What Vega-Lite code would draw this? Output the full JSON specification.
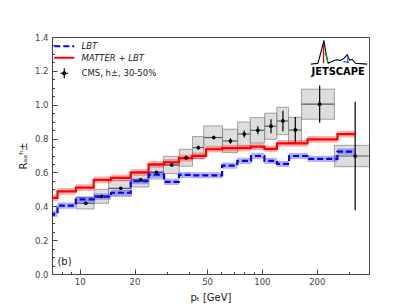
{
  "$schema": "https://vega.github.io/schema/vega-lite/v6.json",
  "width": 317,
  "height": 237,
  "autosize": "none",
  "padding": {"left": 52, "top": 37, "right": 42, "bottom": 34},
  "background": "white",
  "config": {
    "font": "DejaVu Sans",
    "view": {"stroke": "#444", "strokeWidth": 1},
    "axis": {"grid": false, "domainColor": "#444", "tickColor": "#444", "labelColor": "#444", "labelFontSize": 8.5, "titleFontSize": 10, "titleColor": "#222", "titleFontWeight": "normal", "labelFont": "DejaVu Sans", "titleFont": "DejaVu Sans", "labelOverlap": false}
  },
  "datasets": {
    "model": [
      {"pt": 6.8, "series": "MATTER + LBT", "y": 0.45, "lo": 0.43, "hi": 0.47},
      {"pt": 8.4, "series": "MATTER + LBT", "y": 0.488, "lo": 0.468, "hi": 0.508},
      {"pt": 10.8, "series": "MATTER + LBT", "y": 0.51, "lo": 0.49, "hi": 0.53},
      {"pt": 13.2, "series": "MATTER + LBT", "y": 0.556, "lo": 0.536, "hi": 0.576},
      {"pt": 16.8, "series": "MATTER + LBT", "y": 0.568, "lo": 0.548, "hi": 0.588},
      {"pt": 21.6, "series": "MATTER + LBT", "y": 0.6, "lo": 0.58, "hi": 0.62},
      {"pt": 26.4, "series": "MATTER + LBT", "y": 0.648, "lo": 0.628, "hi": 0.668},
      {"pt": 32, "series": "MATTER + LBT", "y": 0.66, "lo": 0.64, "hi": 0.68},
      {"pt": 38.4, "series": "MATTER + LBT", "y": 0.685, "lo": 0.665, "hi": 0.705},
      {"pt": 44.8, "series": "MATTER + LBT", "y": 0.698, "lo": 0.678, "hi": 0.718},
      {"pt": 54.4, "series": "MATTER + LBT", "y": 0.737, "lo": 0.717, "hi": 0.757},
      {"pt": 67.2, "series": "MATTER + LBT", "y": 0.743, "lo": 0.723, "hi": 0.763},
      {"pt": 80, "series": "MATTER + LBT", "y": 0.743, "lo": 0.723, "hi": 0.763},
      {"pt": 95, "series": "MATTER + LBT", "y": 0.752, "lo": 0.732, "hi": 0.772},
      {"pt": 112.2, "series": "MATTER + LBT", "y": 0.739, "lo": 0.719, "hi": 0.759},
      {"pt": 130.4, "series": "MATTER + LBT", "y": 0.772, "lo": 0.752, "hi": 0.792},
      {"pt": 152.5, "series": "MATTER + LBT", "y": 0.772, "lo": 0.752, "hi": 0.792},
      {"pt": 207.5, "series": "MATTER + LBT", "y": 0.795, "lo": 0.775, "hi": 0.815},
      {"pt": 325, "series": "MATTER + LBT", "y": 0.826, "lo": 0.806, "hi": 0.846},
      {"pt": 6.8, "series": "LBT", "y": 0.355, "lo": 0.337, "hi": 0.373},
      {"pt": 8.4, "series": "LBT", "y": 0.404, "lo": 0.386, "hi": 0.422},
      {"pt": 10.8, "series": "LBT", "y": 0.441, "lo": 0.423, "hi": 0.459},
      {"pt": 13.2, "series": "LBT", "y": 0.457, "lo": 0.439, "hi": 0.475},
      {"pt": 16.8, "series": "LBT", "y": 0.48, "lo": 0.462, "hi": 0.498},
      {"pt": 21.6, "series": "LBT", "y": 0.548, "lo": 0.53, "hi": 0.566},
      {"pt": 26.4, "series": "LBT", "y": 0.587, "lo": 0.569, "hi": 0.605},
      {"pt": 32, "series": "LBT", "y": 0.544, "lo": 0.526, "hi": 0.562},
      {"pt": 38.4, "series": "LBT", "y": 0.585, "lo": 0.567, "hi": 0.603},
      {"pt": 44.8, "series": "LBT", "y": 0.583, "lo": 0.565, "hi": 0.601},
      {"pt": 54.4, "series": "LBT", "y": 0.583, "lo": 0.565, "hi": 0.601},
      {"pt": 67.2, "series": "LBT", "y": 0.64, "lo": 0.622, "hi": 0.658},
      {"pt": 80, "series": "LBT", "y": 0.668, "lo": 0.65, "hi": 0.686},
      {"pt": 95, "series": "LBT", "y": 0.697, "lo": 0.679, "hi": 0.715},
      {"pt": 112.2, "series": "LBT", "y": 0.668, "lo": 0.65, "hi": 0.686},
      {"pt": 130.4, "series": "LBT", "y": 0.65, "lo": 0.632, "hi": 0.668},
      {"pt": 152.5, "series": "LBT", "y": 0.697, "lo": 0.679, "hi": 0.715},
      {"pt": 207.5, "series": "LBT", "y": 0.68, "lo": 0.662, "hi": 0.698},
      {"pt": 325, "series": "LBT", "y": 0.723, "lo": 0.705, "hi": 0.741}
    ],
    "cms": [
      {"series": "CMS, h±, 30-50%", "pt": 10.8, "pt_lo": 9.6, "pt_hi": 12, "y": 0.418, "stat_lo": 0.413, "stat_hi": 0.423, "sys_lo": 0.384, "sys_hi": 0.452},
      {"series": "CMS, h±, 30-50%", "pt": 13.2, "pt_lo": 12, "pt_hi": 14.4, "y": 0.459, "stat_lo": 0.454, "stat_hi": 0.464, "sys_lo": 0.418, "sys_hi": 0.5},
      {"series": "CMS, h±, 30-50%", "pt": 16.8, "pt_lo": 14.4, "pt_hi": 19.2, "y": 0.506, "stat_lo": 0.501, "stat_hi": 0.511, "sys_lo": 0.459, "sys_hi": 0.553},
      {"series": "CMS, h±, 30-50%", "pt": 21.6, "pt_lo": 19.2, "pt_hi": 24, "y": 0.556, "stat_lo": 0.55, "stat_hi": 0.562, "sys_lo": 0.514, "sys_hi": 0.598},
      {"series": "CMS, h±, 30-50%", "pt": 26.4, "pt_lo": 24, "pt_hi": 28.8, "y": 0.601, "stat_lo": 0.594, "stat_hi": 0.608, "sys_lo": 0.561, "sys_hi": 0.641},
      {"series": "CMS, h±, 30-50%", "pt": 32, "pt_lo": 28.8, "pt_hi": 35.2, "y": 0.644, "stat_lo": 0.636, "stat_hi": 0.652, "sys_lo": 0.593, "sys_hi": 0.695},
      {"series": "CMS, h±, 30-50%", "pt": 38.4, "pt_lo": 35.2, "pt_hi": 41.6, "y": 0.687, "stat_lo": 0.677, "stat_hi": 0.697, "sys_lo": 0.637, "sys_hi": 0.737},
      {"series": "CMS, h±, 30-50%", "pt": 44.8, "pt_lo": 41.6, "pt_hi": 48, "y": 0.747, "stat_lo": 0.735, "stat_hi": 0.759, "sys_lo": 0.682, "sys_hi": 0.812},
      {"series": "CMS, h±, 30-50%", "pt": 54.4, "pt_lo": 48, "pt_hi": 60.8, "y": 0.806, "stat_lo": 0.796, "stat_hi": 0.816, "sys_lo": 0.737, "sys_hi": 0.875},
      {"series": "CMS, h±, 30-50%", "pt": 67.2, "pt_lo": 60.8, "pt_hi": 73.6, "y": 0.786, "stat_lo": 0.77, "stat_hi": 0.802, "sys_lo": 0.717, "sys_hi": 0.855},
      {"series": "CMS, h±, 30-50%", "pt": 80, "pt_lo": 73.6, "pt_hi": 86.4, "y": 0.827, "stat_lo": 0.807, "stat_hi": 0.847, "sys_lo": 0.756, "sys_hi": 0.898},
      {"series": "CMS, h±, 30-50%", "pt": 95, "pt_lo": 86.4, "pt_hi": 103.6, "y": 0.849, "stat_lo": 0.825, "stat_hi": 0.873, "sys_lo": 0.774, "sys_hi": 0.924},
      {"series": "CMS, h±, 30-50%", "pt": 112.2, "pt_lo": 103.6, "pt_hi": 120.8, "y": 0.873, "stat_lo": 0.832, "stat_hi": 0.914, "sys_lo": 0.796, "sys_hi": 0.95},
      {"series": "CMS, h±, 30-50%", "pt": 130.4, "pt_lo": 120.8, "pt_hi": 140, "y": 0.904, "stat_lo": 0.843, "stat_hi": 0.965, "sys_lo": 0.823, "sys_hi": 0.985},
      {"series": "CMS, h±, 30-50%", "pt": 152.5, "pt_lo": 140, "pt_hi": 165, "y": 0.851, "stat_lo": 0.774, "stat_hi": 0.928, "sys_lo": 0.776, "sys_hi": 0.926},
      {"series": "CMS, h±, 30-50%", "pt": 207.5, "pt_lo": 165, "pt_hi": 250, "y": 1.003, "stat_lo": 0.893, "stat_hi": 1.113, "sys_lo": 0.914, "sys_hi": 1.092},
      {"series": "CMS, h±, 30-50%", "pt": 325, "pt_lo": 250, "pt_hi": 400, "y": 0.697, "stat_lo": 0.377, "stat_hi": 1.017, "sys_lo": 0.634, "sys_hi": 0.76}
    ],
    "logo": [
      {"x": 186, "y": 1.24},
      {"x": 203, "y": 1.245},
      {"x": 212, "y": 1.32},
      {"x": 219, "y": 1.38},
      {"x": 225, "y": 1.3},
      {"x": 231, "y": 1.245},
      {"x": 242, "y": 1.255},
      {"x": 256, "y": 1.265},
      {"x": 270, "y": 1.262},
      {"x": 283, "y": 1.275},
      {"x": 294, "y": 1.295},
      {"x": 304, "y": 1.262},
      {"x": 313, "y": 1.268},
      {"x": 326, "y": 1.245},
      {"x": 378, "y": 1.24}
    ],
    "logoColor": [
      {"g": "r", "x": 218, "y": 1.36},
      {"g": "r", "x": 218, "y": 1.245},
      {"g": "gr", "x": 223, "y": 1.31},
      {"g": "gr", "x": 230, "y": 1.25},
      {"g": "b", "x": 280, "y": 1.255},
      {"g": "b", "x": 300, "y": 1.25},
      {"g": "b2", "x": 296, "y": 1.285},
      {"g": "b2", "x": 296, "y": 1.245}
    ],
    "notes": [
      {"x": 7.55, "y": 0.071, "text": "(b)"}
    ],
    "brand": [
      {"x": 262, "y": 1.196, "text": "JETSCAPE"}
    ]
  },
  "layer": [
    {
      "data": {"name": "cms"},
      "mark": {"type": "rule", "color": "#111", "strokeWidth": 1.2, "clip": true},
      "encoding": {
        "x": {"field": "pt_lo", "type": "quantitative", "scale": {"type": "log", "domain": [7.05, 387], "nice": false},
          "title": "pₜ [GeV]",
          "axis": {
            "values": [8, 9, 10, 20, 30, 40, 50, 60, 70, 80, 90, 100, 200, 300],
            "tickCount": 100,
            "labelExpr": "indexof([10,20,50,100,200], datum.value) >= 0 ? format(datum.value, 'd') : ''",
            "tickSize": {"condition": {"test": "indexof([10,20,50,100,200], datum.value) >= 0", "value": -5}, "value": -2.5},
            "labelPadding": 8,
            "titlePadding": 4,
            "labelFlush": false,
            "labelOverlap": false
          }},
        "x2": {"field": "pt_hi"},
        "y": {"field": "y", "type": "quantitative", "scale": {"domain": [0, 1.4], "nice": false},
          "title": "Rₐₐʰ±",
          "axis": {
            "values": [0, 0.05, 0.1, 0.15, 0.2, 0.25, 0.3, 0.35, 0.4, 0.45, 0.5, 0.55, 0.6, 0.65, 0.7, 0.75, 0.8, 0.85, 0.9, 0.95, 1.0, 1.05, 1.1, 1.15, 1.2, 1.25, 1.3, 1.35, 1.4],
            "tickCount": 100,
            "labelExpr": "indexof(['0.00','0.20','0.40','0.60','0.80','1.00','1.20','1.40'], format(datum.value, '.2f')) >= 0 ? format(datum.value, '.1f') : ''",
            "tickSize": {"condition": {"test": "indexof(['0.00','0.20','0.40','0.60','0.80','1.00','1.20','1.40'], format(datum.value, '.2f')) >= 0", "value": -5}, "value": -2.5},
            "labelPadding": 9,
            "titlePadding": 6,
            "labelFlush": false,
            "labelOverlap": false
          }}
      }
    },
    {
      "data": {"name": "cms"},
      "mark": {"type": "rect", "fill": "#b4b4b4", "fillOpacity": 0.45, "stroke": "#808080", "strokeOpacity": 0.7, "strokeWidth": 1, "clip": true},
      "encoding": {
        "x": {"field": "pt_lo", "type": "quantitative", "title": "pₜ [GeV]"},
        "x2": {"field": "pt_hi"},
        "y": {"field": "sys_lo", "type": "quantitative", "title": "Rₐₐʰ±"},
        "y2": {"field": "sys_hi"}
      }
    },
    {
      "data": {"name": "cms"},
      "mark": {"type": "rule", "color": "#000", "strokeWidth": 1.2, "clip": true},
      "encoding": {
        "x": {"field": "pt", "type": "quantitative", "title": "pₜ [GeV]"},
        "y": {"field": "stat_lo", "type": "quantitative", "title": "Rₐₐʰ±"},
        "y2": {"field": "stat_hi"}
      }
    },
    {
      "data": {"name": "model"},
      "mark": {"type": "area", "interpolate": "step", "opacity": 0.3, "clip": true},
      "encoding": {
        "x": {"field": "pt", "type": "quantitative", "title": "pₜ [GeV]"},
        "y": {"field": "lo", "type": "quantitative", "title": "Rₐₐʰ±"},
        "y2": {"field": "hi"},
        "color": {"field": "series", "type": "nominal"},
        "detail": {"field": "series"}
      }
    },
    {
      "data": {"name": "model"},
      "mark": {"type": "line", "interpolate": "step", "strokeWidth": 2.2, "clip": true},
      "encoding": {
        "x": {"field": "pt", "type": "quantitative", "title": "pₜ [GeV]"},
        "y": {"field": "y", "type": "quantitative", "title": "Rₐₐʰ±"},
        "color": {"field": "series", "type": "nominal",
          "scale": {"domain": ["LBT", "MATTER + LBT", "CMS, h±, 30-50%"], "range": ["#0000ff", "#ff0000", "#000000"]},
          "legend": {
            "title": null,
            "orient": "none",
            "legendX": 8,
            "legendY": 5,
            "padding": 0,
            "symbolSize": 100,
            "symbolOffset": 0,
            "labelOffset": 13,
            "rowPadding": 2.5,
            "labelFontSize": 8.5,
            "labelFont": "DejaVu Sans",
            "labelColor": "#222",
            "encode": {
              "symbols": {"update": {
                "shape": {"signal": "datum.value === 'CMS, h±, 30-50%' ? 'M-0.8,0H0.8M0,-1V1M-0.3,0A0.3,0.3 0 1,0 0.3,0A0.3,0.3 0 1,0 -0.3,0' : 'M-2,0H2'"},
                "strokeDash": {"signal": "datum.value === 'LBT' ? [6,3] : [1,0]"},
                "strokeWidth": {"signal": "datum.value === 'CMS, h±, 30-50%' ? 1.2 : 2"},
                "fill": {"signal": "datum.value === 'CMS, h±, 30-50%' ? '#000000' : 'transparent'"},
                "stroke": {"scale": "color", "field": "value"},
                "opacity": {"value": 1},
                "strokeOpacity": {"value": 1}
              }},
              "labels": {"update": {
                "fontStyle": {"signal": "datum.value === 'CMS, h±, 30-50%' ? 'normal' : 'italic'"}
              }}
            }
          }},
        "strokeDash": {"field": "series", "type": "nominal", "scale": {"domain": ["LBT", "MATTER + LBT"], "range": [[6, 3], [1, 0]]}, "legend": null}
      }
    },
    {
      "data": {"name": "cms"},
      "mark": {"type": "point", "filled": true, "size": 14, "opacity": 1, "clip": true},
      "encoding": {
        "x": {"field": "pt", "type": "quantitative", "title": "pₜ [GeV]"},
        "y": {"field": "y", "type": "quantitative", "title": "Rₐₐʰ±"},
        "color": {"field": "series", "type": "nominal"}
      }
    },
    {
      "data": {"name": "notes"},
      "mark": {"type": "text", "align": "left", "baseline": "middle", "fontSize": 10, "color": "#222"},
      "encoding": {
        "x": {"field": "x", "type": "quantitative"},
        "y": {"field": "y", "type": "quantitative"},
        "text": {"field": "text"}
      }
    },
    {
      "data": {"name": "logo"},
      "mark": {"type": "line", "color": "#000", "strokeWidth": 1.1},
      "encoding": {
        "x": {"field": "x", "type": "quantitative"},
        "y": {"field": "y", "type": "quantitative"}
      }
    },
    {
      "data": {"name": "logoColor"},
      "transform": [{"filter": "datum.g === 'r'"}],
      "mark": {"type": "line", "color": "#e00000", "strokeWidth": 1.3},
      "encoding": {
        "x": {"field": "x", "type": "quantitative"},
        "y": {"field": "y", "type": "quantitative"}
      }
    },
    {
      "data": {"name": "logoColor"},
      "transform": [{"filter": "datum.g === 'gr'"}],
      "mark": {"type": "line", "color": "#00a000", "strokeWidth": 1.2},
      "encoding": {
        "x": {"field": "x", "type": "quantitative"},
        "y": {"field": "y", "type": "quantitative"}
      }
    },
    {
      "data": {"name": "logoColor"},
      "transform": [{"filter": "datum.g === 'b' || datum.g === 'b2'"}],
      "mark": {"type": "line", "color": "#3050ff", "strokeWidth": 1.2},
      "encoding": {
        "x": {"field": "x", "type": "quantitative"},
        "y": {"field": "y", "type": "quantitative"},
        "detail": {"field": "g"}
      }
    },
    {
      "data": {"name": "brand"},
      "mark": {"type": "text", "align": "center", "baseline": "middle", "fontSize": 11, "fontWeight": "bold", "font": "DejaVu Sans Condensed", "color": "#000"},
      "encoding": {
        "x": {"field": "x", "type": "quantitative"},
        "y": {"field": "y", "type": "quantitative"},
        "text": {"field": "text"}
      }
    }
  ]
}
